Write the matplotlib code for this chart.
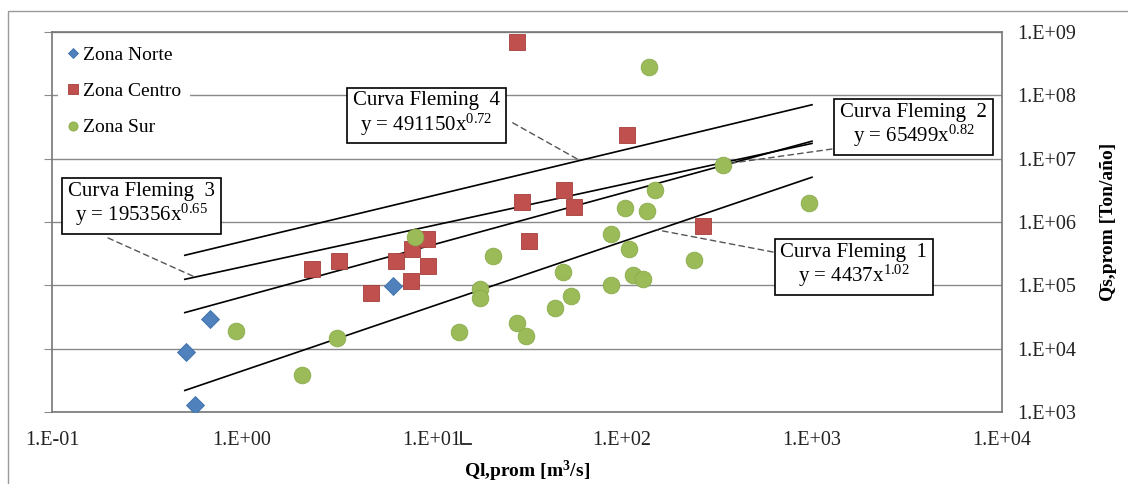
import matplotlib
matplotlib.use("Agg")
import matplotlib.pyplot as plt
from matplotlib.lines import Line2D
from matplotlib.patches import Rectangle
import numpy as np

plt.rcParams['font.family'] = ['Liberation Serif', 'DejaVu Serif']
plt.rcParams['mathtext.fontset'] = 'custom'
plt.rcParams['mathtext.rm'] = 'Liberation Serif'
plt.rcParams['mathtext.it'] = 'Liberation Serif:italic'
plt.rcParams['mathtext.bf'] = 'Liberation Serif:bold'

# Zona Norte
norte_q = [0.507, 0.566, 0.679, 6.23]
norte_qs = [8.7e3, 1.3e3, 2.9e4, 9.6e4]

# Zona Centro
centro_q = [2.34, 3.24, 4.77, 6.47, 7.85, 7.75, 9.41, 9.53, 28.0, 29.8, 32.4, 49.5, 55.9, 106, 267]
centro_qs = [1.78e5, 2.45e5, 7.7e4, 2.4e5, 3.8e5, 1.19e5, 5.3e5, 2.0e5, 6.9e8, 2.04e6, 5.1e5,
             3.16e6, 1.7e6, 2.4e7, 8.5e5]

# Zona Sur
sur_q = [0.93, 3.16, 2.07, 8.14, 13.9, 17.9, 17.9, 20.9, 28.0, 31.2, 44.4, 48.9, 53.9, 87.5,
         87.5, 104, 109, 114, 129, 135, 139, 149, 239, 340, 964]
sur_qs = [1.93e4, 1.49e4, 3.9e3, 5.7e5, 1.86e4, 8.9e4, 6.4e4, 2.86e5, 2.5e4, 1.6e4, 4.46e4,
          1.6e5, 6.7e4, 1.03e5, 6.4e5, 1.64e6, 3.8e5, 1.43e5, 1.24e5, 1.47e6, 2.8e8, 3.16e6,
          2.47e5, 7.9e6, 1.97e6]

# Fleming curves y = a * x^b
fleming_names = ["Curva Fleming  1", "Curva Fleming  2", "Curva Fleming  3", "Curva Fleming  4"]
fleming_a = [4437, 65499, 195356, 491150]
fleming_b = [1.02, 0.82, 0.65, 0.72]
fleming_xmin = 0.5
fleming_xmax = 1000

x_ticks = [1e-1, 1e0, 1e1, 1e2, 1e3, 1e4]
x_ticklabels = ["1.E-01", "1.E+00", "1.E+01", "1.E+02", "1.E+03", "1.E+04"]
y_ticks = [1e3, 1e4, 1e5, 1e6, 1e7, 1e8, 1e9]
y_ticklabels = ["1.E+03", "1.E+04", "1.E+05", "1.E+06", "1.E+07", "1.E+08", "1.E+09"]

grid_col = "#8a8a8a"

fig = plt.figure(figsize=(11.28, 4.84), dpi=100)
ax = fig.add_axes([52 / 1128, 1 - 412 / 484, 950 / 1128, 380 / 484])
ax.set_xscale("log")
ax.set_yscale("log")
ax.set_xlim(1e-1, 1e4)
ax.set_ylim(1e3, 1e9)

for v in y_ticks:
    ax.axhline(v, color=grid_col, lw=1.0, zorder=1)

xs = np.logspace(np.log10(fleming_xmin), np.log10(fleming_xmax), 50)
for a, b in zip(fleming_a, fleming_b):
    ax.plot(xs, a * xs ** b, color="black", lw=1.2, zorder=2)

ax.plot(norte_q, norte_qs, "D", ms=9, color="#4F81BD", mec="#3d6ea8", mew=0.6,
        label="Zona Norte", zorder=3, linestyle="none")
ax.plot(centro_q, centro_qs, "s", ms=12, color="#C0504D", mec="#a63e3b", mew=0.6,
        label="Zona Centro", zorder=3, linestyle="none")
ax.plot(sur_q, sur_qs, "o", ms=12, color="#9BBB59", mec="#8aab4a", mew=0.6,
        label="Zona Sur", zorder=3, linestyle="none")

# annotation boxes (axes fraction) and leader targets (data)
box_pos = [(0.844, 0.384), (0.907, 0.753), (0.094, 0.545), (0.394, 0.783)]
leader_start = [(0.759, 0.421), (0.821, 0.692), (0.059, 0.458), (0.485, 0.761)]
leader_x = [153, 379, 0.566, 60]
for name, a, b, pos, st, lx in zip(fleming_names, fleming_a, fleming_b, box_pos,
                                   leader_start, leader_x):
    ax.annotate("", xy=(lx, a * lx ** b), xycoords="data", xytext=st,
                textcoords="axes fraction",
                arrowprops=dict(arrowstyle="-", linestyle=(0, (4, 3)), color="#555555",
                                lw=1.0, shrinkA=0, shrinkB=0), zorder=4)
    txt = name + "\n" + "y = %dx$^{%.2f}$" % (a, b)
    ax.text(pos[0], pos[1], txt, transform=ax.transAxes, ha="center", va="center",
            fontsize=15, linespacing=1.05, zorder=5,
            bbox=dict(boxstyle="square,pad=0.28", facecolor="white", edgecolor="black", lw=1.2))

ax.set_xticks(x_ticks)
ax.set_xticklabels(x_ticklabels)
ax.set_yticks(y_ticks)
ax.set_yticklabels(y_ticklabels)
ax.minorticks_off()
ax.tick_params(axis="x", length=0, pad=14, labelsize=14.5, colors="#222222")
ax.tick_params(axis="y", left=True, right=False, labelleft=False, labelright=True,
               direction="out", length=6, color=grid_col, pad=5, labelsize=14.5,
               labelcolor="#222222")
for s in ax.spines.values():
    s.set_color("#777777")
    s.set_linewidth(1.2)

ax.set_xlabel("Ql,prom [m$^\\mathbf{3}$/s]", fontsize=14, fontweight="bold", labelpad=6)
ax.yaxis.set_label_position("right")
ax.set_ylabel("Q\u0304s,prom [Ton/año]", fontsize=14, fontweight="bold", labelpad=17,
              rotation=90)

leg = ax.legend(loc="upper left", bbox_to_anchor=(0.0, 1.0), fontsize=14, frameon=True,
                facecolor="white", edgecolor="none", framealpha=1, fancybox=False,
                markerscale=0.55, handlelength=0.7, handletextpad=0.15, labelspacing=0.95,
                borderpad=0.45, borderaxespad=0.3)
leg.set_zorder(6)

# outer chart frame
fig.patches.append(Rectangle((8 / 1128, -0.1), 1.2, 1 - 11 / 484 + 0.1,
                             transform=fig.transFigure, fill=False,
                             edgecolor="#999999", lw=1.0))
# small mark next to the 1.E+01 label
fig.lines.append(Line2D([461 / 1128, 461 / 1128, 471 / 1128],
                        [1 - 432 / 484, 1 - 444 / 484, 1 - 444 / 484],
                        transform=fig.transFigure, color="#222222", lw=1.3))

fig.savefig("out.png", dpi=100)
